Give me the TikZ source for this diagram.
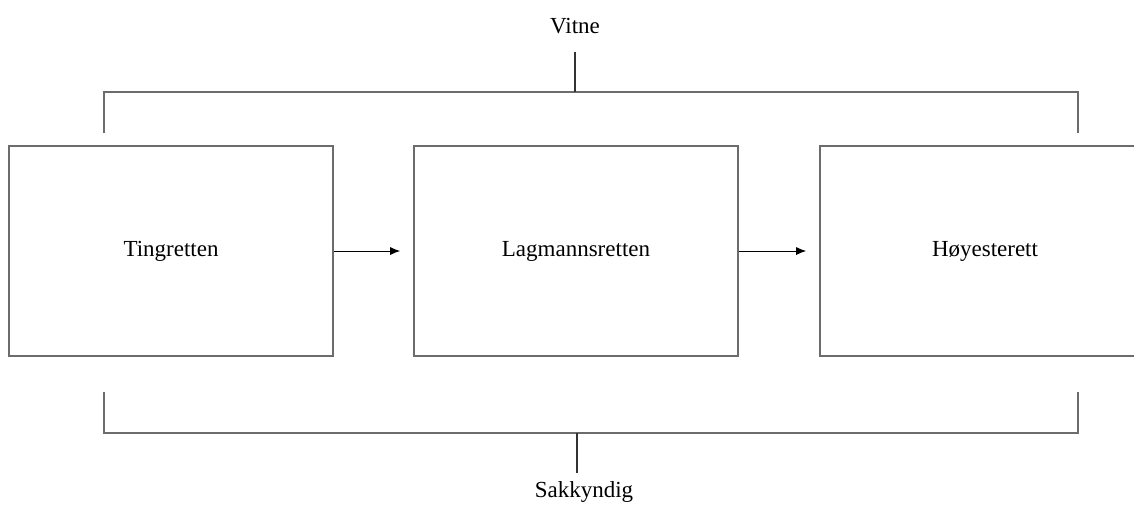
\documentclass[tikz,border=0pt]{standalone}
\usepackage{fontspec}
\setmainfont{Liberation Serif}
\usetikzlibrary{arrows.meta}
\begin{document}
\begin{tikzpicture}[x=1pt,y=-1pt,
  court/.style={draw=gray!85!black, line width=1.6pt, minimum width=324pt, minimum height=210pt, inner sep=0pt, font=\fontsize{23}{27}\selectfont},
  brace/.style={draw=gray!85!black, line width=1.6pt},
  stem/.style={draw=black!80, line width=1.2pt},
  flow/.style={draw=black, line width=1pt, -{Latex[length=10pt,width=8pt]}, shorten >=13pt},
  lbl/.style={font=\fontsize{23}{27}\selectfont, inner sep=0pt}]
\useasboundingbox (0,0) rectangle (1134,504);
\clip (0,0) rectangle (1134,504);
\fill[white] (0,0) rectangle (1134,504);
\node[court] (t) at (171,251) {Tingretten};
\node[court] (l) at (576,251) {Lagmannsretten};
\node[court, minimum width=330pt] (h) at (985,251) {Høyesterett};
\draw[flow] (t.east) -- (l.west);
\draw[flow] (l.east) -- (h.west);
% top bracket
\coordinate (tl) at (104,133);
\coordinate (tr) at (1078,133);
\coordinate (tm) at (575,92);
\draw[brace] (tl) |- (tm) -| (tr);
\node[lbl, anchor=base] (v) at (575,33) {Vitne};
\coordinate (vs) at (575,52);
\draw[stem] (vs) -- (tm);
% bottom bracket
\coordinate (bl) at (104,392);
\coordinate (br) at (1078,392);
\coordinate (bm) at (577,433);
\draw[brace] (bl) |- (bm) -| (br);
\node[lbl, anchor=base] (s) at (584,497) {Sakkyndig};
\coordinate (ss) at (577,473);
\draw[stem] (bm) -- (ss);
\end{tikzpicture}
\end{document}
